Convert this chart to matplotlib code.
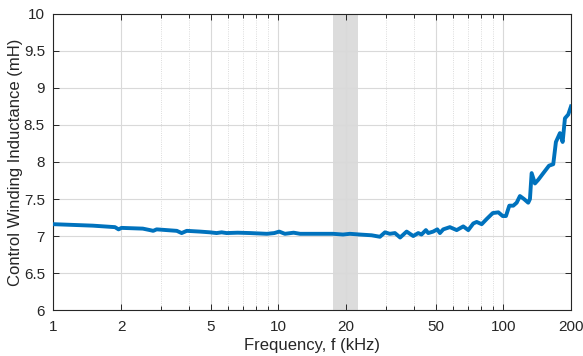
import numpy as np
import matplotlib
matplotlib.use('Agg')
import matplotlib.pyplot as plt
from matplotlib.ticker import FixedLocator, LogLocator, NullFormatter

plt.rcParams['font.family'] = ['Liberation Sans', 'DejaVu Sans']

# measured control winding inductance vs frequency
freq_khz = [1.0, 1.5, 1.88, 1.95, 2.01, 2.5, 2.69, 2.78, 2.88, 3.54, 3.72, 3.92,
            4.48, 4.97, 5.32, 5.6, 5.89, 6.6, 7.5, 8.9, 9.6, 10.1, 10.7, 11.7,
            12.5, 14.8, 17.5, 19.4, 20.8, 23.1, 26.0, 28.3, 29.8, 31.3, 33.0,
            34.8, 37.2, 39.8, 41.9, 43.3, 45.3, 46.4, 48.8, 50.9, 52.3, 54.1,
            57.9, 62.1, 66.4, 69.9, 73.6, 76.2, 80.2, 84.4, 89.8, 95.1, 99.4,
            102.8, 106.4, 110.8, 114.7, 118.6, 123.6, 129.1, 131.4, 133.7,
            138.3, 143.1, 150.7, 159.7, 166.8, 171.4, 178.6, 183.6, 188.0,
            194.4, 200.0]
inductance_mh = [7.16, 7.14, 7.12, 7.09, 7.11, 7.10, 7.08, 7.07, 7.09, 7.07, 7.04, 7.07,
                 7.06, 7.05, 7.04, 7.05, 7.04, 7.045, 7.04, 7.03, 7.04, 7.06, 7.03, 7.045,
                 7.03, 7.03, 7.03, 7.02, 7.03, 7.02, 7.01, 6.99, 7.05, 7.03, 7.04,
                 6.98, 7.06, 7.00, 7.04, 7.02, 7.08, 7.04, 7.06, 7.09, 7.04, 7.09,
                 7.12, 7.08, 7.13, 7.08, 7.17, 7.19, 7.16, 7.23, 7.31, 7.32, 7.27,
                 7.27, 7.41, 7.41, 7.45, 7.54, 7.50, 7.45, 7.50, 7.85,
                 7.71, 7.76, 7.85, 7.95, 7.97, 8.27, 8.39, 8.27, 8.59,
                 8.64, 8.75]

band_khz = [17.5, 22.5]
xticks = [1, 2, 5, 10, 20, 50, 100, 200]
yticks = [6, 6.5, 7, 7.5, 8, 8.5, 9, 9.5, 10]

fig = plt.figure(figsize=(5.83, 3.56), dpi=100)
ax = fig.add_axes([0.0914, 0.129, 0.888, 0.832])

ax.axvspan(band_khz[0], band_khz[1], color='#dcdcdc', lw=0, zorder=1)
ax.plot(freq_khz, inductance_mh, color='#0072BD', lw=2.8, zorder=3)

ax.set_xscale('log')
ax.set_xlim(1, 200)
ax.set_ylim(6, 10)
ax.xaxis.set_major_locator(FixedLocator(xticks))
ax.set_xticklabels([str(t) for t in xticks])
ax.xaxis.set_minor_locator(LogLocator(base=10, subs=np.arange(2, 10)))
ax.xaxis.set_minor_formatter(NullFormatter())
ax.set_yticks(yticks)
ax.set_yticklabels(['6', '6.5', '7', '7.5', '8', '8.5', '9', '9.5', '10'])

ax.grid(which='major', color='#d9d9d9', lw=0.8)
ax.grid(which='minor', axis='x', color='#d0d0d0', lw=0.6, ls=':')

ax.tick_params(which='both', direction='in', top=True, right=True,
               labelsize=11, colors='#262626', length=4, width=0.7)
ax.tick_params(axis='x', pad=7)
ax.tick_params(axis='y', pad=6)
ax.tick_params(which='minor', length=3)
for s in ax.spines.values():
    s.set_color('#262626')
    s.set_linewidth(0.8)

ax.set_xlabel('Frequency, f (kHz)', fontsize=12, color='#262626', labelpad=3)
ax.set_ylabel('Control Winding Inductance (mH)', fontsize=12, color='#262626')
ax.yaxis.set_label_coords(-0.058, 0.5)

fig.savefig('out.png', dpi=100)
